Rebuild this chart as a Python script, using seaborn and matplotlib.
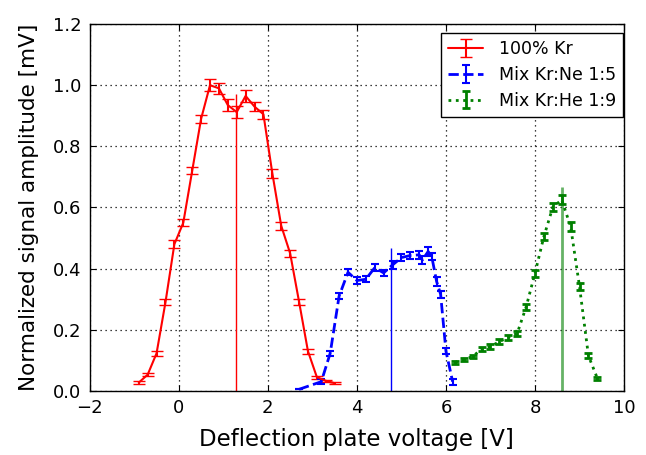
import matplotlib
matplotlib.use("Agg")
import matplotlib.pyplot as plt
import seaborn as sns

# DATA: signal vs deflection voltage
kr_x = [-0.9, -0.7, -0.5, -0.3, -0.1, 0.1, 0.3, 0.5, 0.7, 0.9, 1.1, 1.3,
        1.5, 1.7, 1.9, 2.1, 2.3, 2.5, 2.7, 2.9, 3.1, 3.3, 3.5]
kr_y = [0.027, 0.053, 0.123, 0.29, 0.48, 0.55, 0.72, 0.89, 1.0, 0.99, 0.935, 0.912,
        0.965, 0.93, 0.905, 0.712, 0.54, 0.45, 0.292, 0.13, 0.045, 0.033, 0.025]
kr_err = [0.004, 0.006, 0.008, 0.01, 0.012, 0.012, 0.012, 0.014, 0.02, 0.018, 0.02, 0.02,
          0.02, 0.015, 0.015, 0.015, 0.013, 0.012, 0.01, 0.008, 0.005, 0.004, 0.003]

ne_x = [2.7, 3.2, 3.4, 3.6, 3.8, 4.0, 4.2, 4.4, 4.6, 4.8, 5.0, 5.2, 5.4, 5.47,
        5.6, 5.68, 5.79, 5.88, 6.0, 6.15]
ne_y = [0.005, 0.03, 0.123, 0.31, 0.388, 0.361, 0.365, 0.403, 0.386, 0.412, 0.436,
        0.443, 0.445, 0.428, 0.456, 0.44, 0.358, 0.316, 0.13, 0.03]
ne_err = [0.0, 0.008, 0.008, 0.01, 0.01, 0.01, 0.01, 0.012, 0.01, 0.012, 0.012,
          0.012, 0.012, 0.012, 0.015, 0.012, 0.015, 0.012, 0.01, 0.01]

he_x = [6.2, 6.4, 6.6, 6.8, 7.0, 7.2, 7.4, 7.6, 7.8, 8.0, 8.2, 8.4, 8.6, 8.8, 9.0, 9.2, 9.4]
he_y = [0.093, 0.103, 0.112, 0.137, 0.145, 0.161, 0.175, 0.188, 0.274, 0.385, 0.505,
        0.601, 0.625, 0.538, 0.341, 0.115, 0.041]
he_err = [0.005, 0.005, 0.006, 0.007, 0.007, 0.008, 0.008, 0.009, 0.01, 0.012, 0.012,
          0.013, 0.015, 0.014, 0.012, 0.008, 0.004]

# peak markers (position, height)
peak_x = [1.29, 4.76, 8.6]
peak_h = [0.97, 0.467, 0.667]

labels = ["100% Kr", "Mix Kr:Ne 1:5", "Mix Kr:He 1:9"]

sns.set_style("ticks", {"text.color": "black", "axes.labelcolor": "black",
                        "xtick.color": "black", "ytick.color": "black",
                        "axes.edgecolor": "black"})
plt.rcParams["font.family"] = ["DejaVu Sans"]

fig = plt.figure(figsize=(6.46, 4.55), dpi=100)
ax = fig.add_axes([0.139, 0.141, 0.827, 0.806])

ax.errorbar(kr_x, kr_y, yerr=kr_err, color="r", ls="-", lw=1.5,
            capsize=4, capthick=1, label=labels[0])
ax.errorbar(ne_x, ne_y, yerr=ne_err, color="b", ls="--", lw=2,
            capsize=3, capthick=1.5, elinewidth=1.5, label=labels[1])
ax.errorbar(he_x, he_y, yerr=he_err, color="g", ls=":", lw=2,
            capsize=3, capthick=2, elinewidth=2, label=labels[2])

ax.vlines(peak_x[0], 0, peak_h[0], color="r", lw=1)
ax.vlines(peak_x[1], 0, peak_h[1], color="b", lw=1)
ax.vlines(peak_x[2], 0, peak_h[2], color="g", lw=2, alpha=0.6)

ax.set_xlim(-2, 10)
ax.set_ylim(0, 1.2)
ax.set_xticks([-2, 0, 2, 4, 6, 8, 10])
ax.set_yticks([0.0, 0.2, 0.4, 0.6, 0.8, 1.0, 1.2])
ax.grid(True, color="black", ls=(0, (1, 3)), lw=0.9)
ax.tick_params(direction="in", length=4, top=True, right=True, labelsize=13, pad=6)
for s in ax.spines.values():
    s.set_linewidth(1)

ax.set_xlabel("Deflection plate voltage [V]", fontsize=16.5, labelpad=8)
ax.set_ylabel("Normalized signal amplitude [mV]", fontsize=15.5, labelpad=10)

leg = ax.legend(loc="upper right", bbox_to_anchor=(0.998, 0.975), borderaxespad=0,
                fontsize=12.5, fancybox=False, framealpha=1, edgecolor="black",
                handlelength=2, handletextpad=0.9, labelspacing=0.45)
leg.get_frame().set_linewidth(1)

fig.savefig("out.png", dpi=100)
